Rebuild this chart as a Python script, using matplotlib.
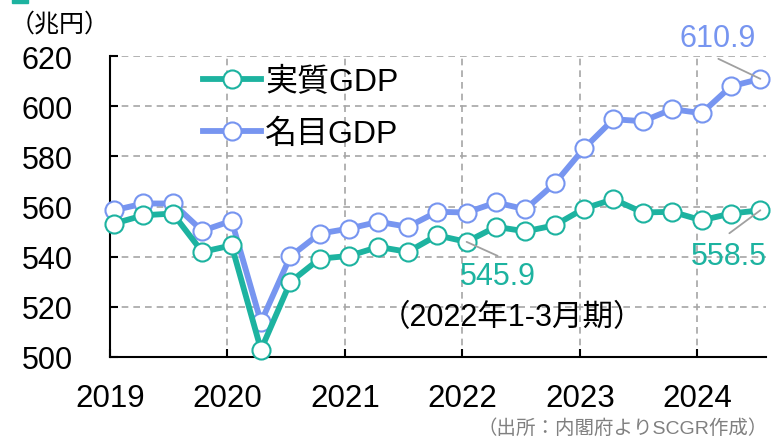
import matplotlib.pyplot as plt
from matplotlib.lines import Line2D
from matplotlib.patches import Rectangle

plt.rcParams['font.family'] = ['Liberation Sans', 'Noto Sans CJK JP']

# quarterly GDP, 2019 Q1 - 2024 Q3 (trillion yen)
years = [2019, 2020, 2021, 2022, 2023, 2024]
real_gdp = [553.2, 556.5, 557.2, 541.9, 544.5, 502.9, 529.9, 539.2, 540.3, 543.9,
            541.9, 548.5, 545.9, 551.9, 550.1, 552.5, 559.2, 562.9, 557.6, 557.9,
            554.5, 557.2, 558.5]
nominal_gdp = [558.5, 561.2, 561.2, 550.3, 554.3, 513.9, 540.1, 549.2, 551.2, 553.9,
               551.9, 557.9, 557.6, 561.6, 558.9, 569.2, 583.2, 594.8, 594.0, 598.8,
               597.2, 607.9, 610.9]
quarter_x = [years[0] + i / 4 + 0.035 for i in range(len(real_gdp))]

TEAL = '#1db3a0'
BLUE = '#7795f0'
GRID = '#a6a6a6'

fig = plt.figure(figsize=(7.72, 4.39), dpi=100)
ax = fig.add_axes([110 / 772, 1 - 358 / 439, 656 / 772, 301 / 439])

line_kw = dict(lw=4.2, marker='o', ms=13, mfc='white', mew=1.5, clip_on=False)
ax.plot(quarter_x, nominal_gdp, color=BLUE, zorder=3, **line_kw)
ax.plot(quarter_x, real_gdp, color=TEAL, zorder=4, **line_kw)

ax.set_xlim(2019, 2024.583)
ax.set_ylim(500, 620)
ax.set_yticks(range(500, 621, 20))
ax.set_xticks(years)
ax.set_xticklabels([str(y) for y in years])
ax.grid(True, color=GRID, ls=(0, (4, 3)), lw=1.2)
ax.set_axisbelow(True)
for side in ('top', 'right'):
    ax.spines[side].set_visible(False)
for side in ('left', 'bottom'):
    ax.spines[side].set_linewidth(1.5)
ax.tick_params(axis='y', direction='in', length=6, width=1.5, pad=27, labelsize=22)
ax.tick_params(axis='x', direction='in', length=6, width=1.5, pad=19, labelsize=22.5)

handles = [Line2D([], [], color=TEAL, lw=4.2, marker='o', ms=13, mfc='white', mew=1.5),
           Line2D([], [], color=BLUE, lw=4.2, marker='o', ms=13, mfc='white', mew=1.5)]
ax.legend(handles, ['実質GDP', '名目GDP'], loc='upper left',
          bbox_to_anchor=(203 / 772, 1 - 68 / 439), bbox_transform=fig.transFigure,
          frameon=False, fontsize=23, handlelength=1.8, handletextpad=0.15,
          borderpad=0, borderaxespad=0, labelspacing=0.68)


def callout(x, y, text, color, line_off, text_off):
    ax.annotate('', xy=(x, y), xytext=line_off, textcoords='offset pixels',
                arrowprops=dict(arrowstyle='-', color='#a0a0a0', lw=1.3,
                                shrinkA=0, shrinkB=0), zorder=6)
    ax.annotate(text, xy=(x, y), xytext=text_off, textcoords='offset pixels',
                ha='center', va='center', color=color, fontsize=22, zorder=6,
                annotation_clip=False)


callout(quarter_x[-1], nominal_gdp[-1], f'{nominal_gdp[-1]:.1f}', BLUE, (-42, 20), (-43, 41))
callout(quarter_x[12], real_gdp[12], f'{real_gdp[12]:.1f}', TEAL, (31, -14), (31, -34))
callout(quarter_x[-1], real_gdp[-1], f'{real_gdp[-1]:.1f}', TEAL, (-31, -23), (-32, -46))
ax.annotate('（2022年1-3月期）', xy=(quarter_x[12], real_gdp[12]), xytext=(45, -75),
            textcoords='offset pixels', ha='center', va='center', fontsize=22)

fig.text(60 / 772, 1 - 25 / 439, '（兆円）', ha='center', va='center', fontsize=18)
fig.text(768 / 772, 1 - 429 / 439, '（出所：内閣府よりSCGR作成）', ha='right', va='center',
         fontsize=14, color='#808080')
fig.patches.append(Rectangle((12 / 772, 1 - 4 / 439), 16 / 772, 4 / 439,
                             transform=fig.transFigure, color=TEAL))

fig.savefig('out.png', dpi=100)
